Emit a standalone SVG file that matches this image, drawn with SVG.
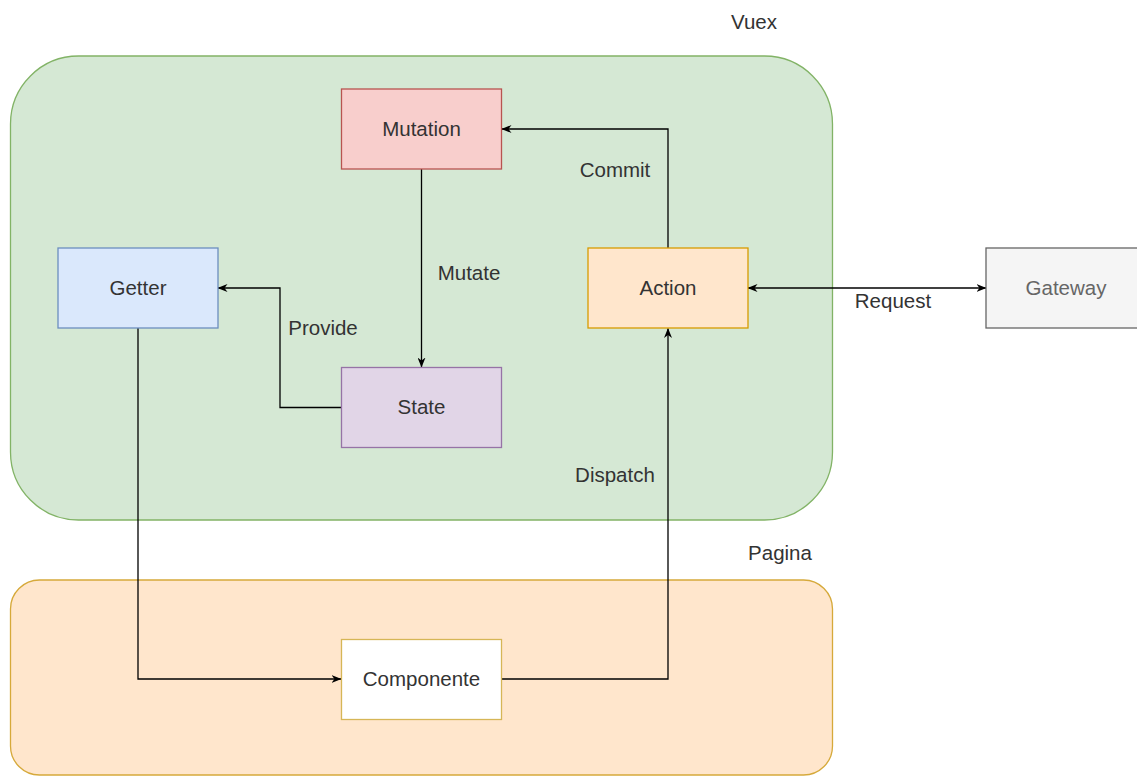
<svg xmlns="http://www.w3.org/2000/svg" width="1137" height="776" viewBox="0 0 1137 776">
<style>
text{font-family:"Liberation Sans",Arial,sans-serif;font-size:20.5px;fill:#333;text-anchor:middle;dominant-baseline:central}
.n{stroke-width:1.3}
.e{fill:none;stroke:#000;stroke-width:1.3}
</style>
<defs>
<marker id="a" viewBox="0 0 10 8" refX="9.5" refY="4" markerWidth="10" markerHeight="8" markerUnits="userSpaceOnUse" orient="auto-start-reverse">
<path d="M0,0 L10,4 L0,8 L3,4 Z" fill="#000"/>
</marker>
</defs>
<rect width="1137" height="776" fill="#fff"/>
<g id="vuex">
<rect x="10.5" y="56" width="822" height="464" rx="68" ry="68" fill="#d5e8d4" stroke="#82b366" class="n"/>
<text x="754" y="21">Vuex</text>
</g>
<g id="pagina">
<rect x="10.5" y="580" width="822" height="195" rx="29" ry="29" fill="#ffe6cc" stroke="#d6a93a" class="n"/>
<text x="780" y="552">Pagina</text>
</g>
<g id="connectors">
<path class="e" d="M421.5,169 L421.5,367" marker-end="url(#a)"/>
<text x="469" y="272">Mutate</text>
<path class="e" d="M668,248 L668,129 L502,129" marker-end="url(#a)"/>
<text x="615" y="169">Commit</text>
<path class="e" d="M341.5,407.5 L280,407.5 L280,288 L218,288" marker-end="url(#a)"/>
<text x="323" y="327">Provide</text>
<path class="e" d="M748,288 L986,288" marker-start="url(#a)" marker-end="url(#a)"/>
<text x="893" y="300">Request</text>
<path class="e" d="M138,328 L138,679 L341,679" marker-end="url(#a)"/>
<path class="e" d="M501.5,679 L668,679 L668,328.5" marker-end="url(#a)"/>
<text x="615" y="474">Dispatch</text>
</g>
<g id="mutation">
<rect x="341.5" y="89" width="160" height="80" fill="#f8cecc" stroke="#b85450" class="n"/>
<text x="421.5" y="128">Mutation</text>
</g>
<g id="getter">
<rect x="58" y="248" width="160" height="80" fill="#dae8fc" stroke="#6c8ebf" class="n"/>
<text x="138" y="287">Getter</text>
</g>
<g id="action">
<rect x="588" y="248" width="160" height="80" fill="#ffe6cc" stroke="#d79b00" class="n"/>
<text x="668" y="287">Action</text>
</g>
<g id="state">
<rect x="341.5" y="367.5" width="160" height="80" fill="#e1d5e7" stroke="#9673a6" class="n"/>
<text x="421.5" y="406.5">State</text>
</g>
<g id="gateway">
<rect x="986" y="248" width="160" height="80" fill="#f5f5f5" stroke="#666666" class="n"/>
<text x="1066" y="287" style="fill:#666">Gateway</text>
</g>
<g id="componente">
<rect x="341.5" y="639.5" width="160" height="80" fill="#ffffff" stroke="#d6b656" class="n"/>
<text x="421.5" y="678.5">Componente</text>
</g>
</svg>
